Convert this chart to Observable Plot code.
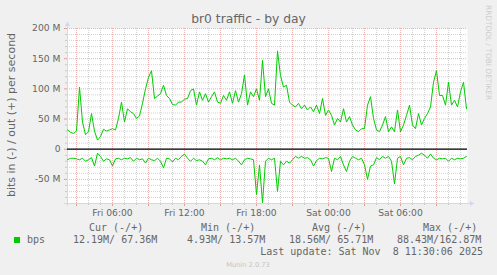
<!DOCTYPE html>
<html><head><meta charset="utf-8">
<script src="https://cdn.jsdelivr.net/npm/d3@7"></script>
<script src="https://cdn.jsdelivr.net/npm/@observablehq/plot@0.6"></script>
<style>
html,body{margin:0;padding:0;background:#f0f0f0;}
#wrap{position:relative;width:497px;height:275px;overflow:hidden;}
</style></head><body><div id="wrap"></div>
<script>
// ---- data (millions of bits per second, 15-minute samples) ----
const startTime = "2025-11-07T02:15:00Z";
const endTime = "2025-11-08T11:35:00Z";
const stepMinutes = 15;
const bpsOut = [32,28,26,30,103,45,24,29,59,30,15,21,33,30,32,34,32,51,78,45,67,62,59,51,55,76,100,119,130,84,88,92,106,89,84,74,73,78,78,83,84,97,100,73,
95,81,92,78,87,95,78,76,89,81,95,76,97,78,92,123,73,95,87,100,81,147,87,100,76,73,162.9,122,103,106,78,73,70,76,67,73,65,70,62,73,59,84,56,65,
56,40,51,45,67,45,54,40,32,29,34,34,73,87,51,32,29,40,54,29,37,29,65,29,40,56,73,40,34,59,40,51,59,70,111,130,89,89,73,111,73,81,70,95,111,67];
const bpsIn = [17.5,15,15,16,17.5,15,20,17.5,14,28,6.6,12,20,16,17.5,28,16,15,17.5,15,16,14,20,15,17.5,16,23,15,17.5,19,15,20,31,15,16,21,15,17.5,12,8,15,20,15,19,
17.5,20,26,16,15,17.5,14,17.5,15,16,15,17.5,15,20,26,17.5,15,16,17.5,75,26,88.4,20,15,17.5,15,70,20,26,20,23,17.5,12,15,12,15,14,17.5,28,19,15,16,14,15,
37,15,17.5,12,26,37,20,12,15,17.5,15,26,50,28,26,14,17.5,12,15,12,20,57.5,15,12,26,15,14,17.5,12,10,6.6,10,15,8,15,17.5,15,16,15,20,15,17.5,15,16,15,12];
const yTickLabels = [-50, 0, 50, 100, 150, 200];
const xTickLabels = ["2025-11-07T06:00:00Z","2025-11-07T12:00:00Z","2025-11-07T18:00:00Z","2025-11-08T00:00:00Z","2025-11-08T06:00:00Z"];
const title = "br0 traffic - by day";
const yTitle = "bits in (-) / out (+) per second";
const seriesName = "bps";
const legendHeaders = ["Cur (-/+)", "Min (-/+)", "Avg (-/+)", "Max (-/+)"];
const legendValues = ["12.19M/ 67.36M", " 4.93M/ 13.57M", "18.56M/ 65.71M", "88.43M/162.87M"];
const lastUpdate = "Last update: Sat Nov  8 11:30:06 2025";
const footer = "Munin 2.0.73";
const watermark = "RRDTOOL / TOBI OETIKER";

// ---- build ----
const t0 = new Date(startTime), t1 = new Date(endTime);
const data = bpsOut.map((v, i) => ({time: new Date(+t0 + i * stepMinutes * 60000), out: v, inn: bpsIn[i]}));
const hours = d3.utcHour.range(t0, t1);
const majorX = hours.filter(d => d.getUTCHours() % 3 === 0);
const minorX = hours.filter(d => d.getUTCHours() % 3 !== 0);
const yMajor = d3.range(-50, 201, 50);
const yMinor = d3.range(-80, 200, 10).filter(v => v % 50 !== 0);
const axisColor = "#CFD6F8", minorColor = "#d2d2d2", majorColor = "#ecb2b2", green = "#00cc00";

const chart = Plot.plot({
  width: 497, height: 275,
  marginLeft: 67, marginRight: 30, marginTop: 28, marginBottom: 72,
  style: {background: "transparent", fontFamily: "DejaVu Sans", fontSize: "9.2px", color: "#666", overflow: "visible"},
  x: {type: "utc", domain: [t0, t1]},
  y: {domain: [-90, 200]},
  marks: [
    Plot.frame({fill: "#ffffff", stroke: "none"}),
    Plot.ruleY(yMinor, {stroke: minorColor, strokeDasharray: "1,1"}),
    Plot.ruleX(minorX, {stroke: minorColor, strokeDasharray: "1,1"}),
    Plot.ruleY(yMajor, {stroke: majorColor, strokeDasharray: "1,1"}),
    Plot.ruleX(majorX, {stroke: majorColor, strokeDasharray: "1,1"}),
    Plot.axisX(majorX, {anchor: "bottom", tickSize: 3, fill: "none", stroke: "#e39a9a", label: null}),
    Plot.axisX(minorX, {anchor: "bottom", tickSize: 2, fill: "none", stroke: "#c8c8c8", label: null}),
    Plot.axisY(yMajor, {anchor: "left", tickSize: 3, fill: "none", stroke: "#e39a9a", label: null}),
    Plot.axisY(yMinor, {anchor: "left", tickSize: 2, fill: "none", stroke: "#c8c8c8", label: null}),
    Plot.ruleX([t0], {stroke: axisColor, insetTop: -5, insetBottom: -3}),
    Plot.ruleY([-90], {stroke: axisColor, insetLeft: -3, insetRight: -4}),
    Plot.dot([{x: t0, y: 200}], {x: "x", y: "y", symbol: "triangle", r: 1.9, fill: axisColor, stroke: "none", dy: -4}),
    Plot.dot([{x: t1, y: -90}], {x: "x", y: "y", symbol: "triangle", r: 1.9, fill: axisColor, stroke: "none", rotate: 90, dx: 4}),
    Plot.ruleY([0], {stroke: "#000000", strokeWidth: 1.2}),
    Plot.line(data, {x: "time", y: "out", stroke: green, strokeWidth: 1}),
    Plot.line(data, {x: "time", y: d => -d.inn, stroke: green, strokeWidth: 1}),
    Plot.axisX(xTickLabels.map(d => new Date(d)), {anchor: "bottom", tickSize: 0, tickPadding: 6, tickFormat: d3.utcFormat("%a %H:%M"), fill: "#666", label: null}),
    Plot.axisY(yTickLabels, {anchor: "left", tickSize: 0, tickPadding: 7, tickFormat: d => d === 0 ? "0" : `${d} M`, fill: "#666", label: null})
  ]
});
document.getElementById("wrap").appendChild(chart);

// ---- titles and legend as real text ----
const svg = d3.select(chart);
const g = svg.append("g").attr("fill", "#666").attr("text-anchor", "start");
g.append("text").attr("x", 248.5).attr("y", 23).attr("text-anchor", "middle")
  .attr("font-family", "DejaVu Sans").attr("font-size", 12.3).text(title);
g.append("text").attr("transform", "translate(15,115) rotate(-90)").attr("text-anchor", "middle")
  .attr("font-family", "DejaVu Sans").attr("font-size", 11).text(yTitle);
g.append("text").attr("transform", "translate(485.5,5) rotate(90)").attr("text-anchor", "start")
  .attr("font-family", "DejaVu Sans").attr("font-size", 7.4).attr("fill", "#cdcdcd").text(watermark);
const mono = g.append("g").attr("font-family", "DejaVu Sans Mono").attr("font-size", 10)
  .attr("text-anchor", "start").attr("xml:space", "preserve").style("white-space", "pre");
const headerX = [89, 201, 312, 423];
const valueX = [73, 181, 289, 397];
legendHeaders.forEach((h, i) => mono.append("text").attr("x", headerX[i]).attr("y", 230.5).text(h));
legendValues.forEach((v, i) => mono.append("text").attr("x", valueX[i]).attr("y", 243).text(v));
g.append("rect").attr("x", 14).attr("y", 237).attr("width", 6).attr("height", 6).attr("fill", green);
mono.append("text").attr("x", 27).attr("y", 243).text(seriesName);
mono.append("text").attr("x", 483).attr("y", 255).attr("text-anchor", "end").text(lastUpdate);
g.append("text").attr("x", 248).attr("y", 266.5).attr("text-anchor", "middle")
  .attr("font-family", "DejaVu Sans").attr("font-size", 6.7).attr("fill", "#c4c4c4").text(footer);
</script></body></html>
